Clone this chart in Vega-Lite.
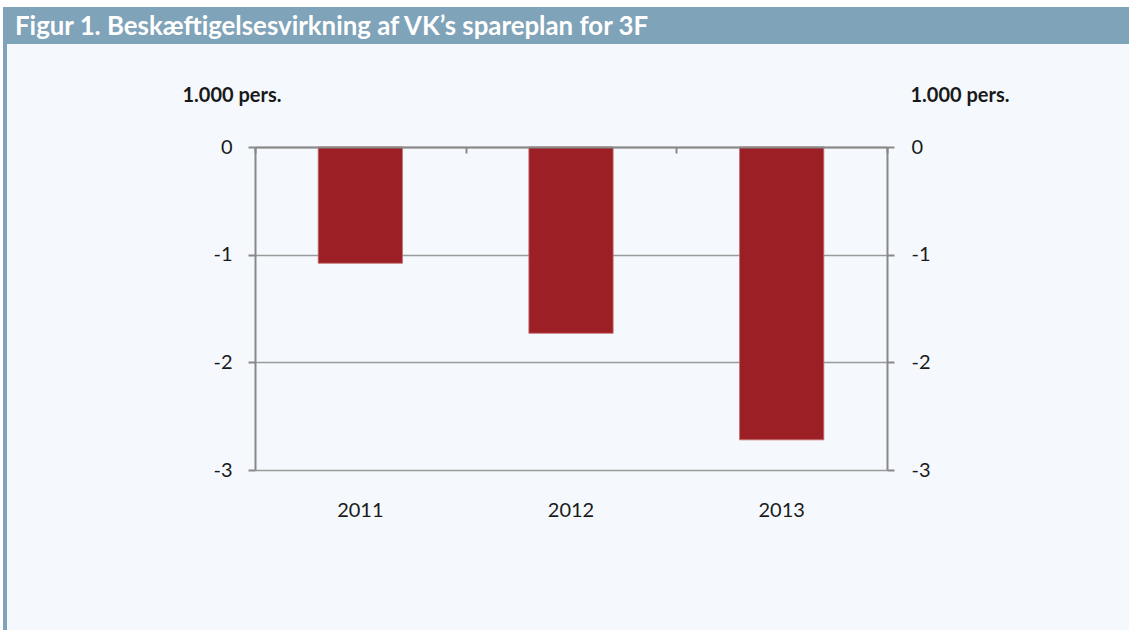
{
  "$schema": "https://vega.github.io/schema/vega-lite/v6.json",
  "background": "#f5f9fd",
  "padding": 0,
  "spacing": 0,
  "bounds": "full",
  "config": {
    "view": {"stroke": null},
    "concat": {"spacing": 0},
    "font": "Lato"
  },
  "vconcat": [
    {
      "width": 1129, "height": 7,
      "view": {"fill": "#ffffff", "stroke": null},
      "data": {"values": []},
      "mark": "text"
    },
    {
      "spacing": 0,
      "bounds": "flush",
      "hconcat": [
        {
          "width": 3, "height": 37,
          "view": {"fill": "#ffffff", "stroke": null},
          "data": {"values": []},
          "mark": "text"
        },
        {
          "width": 1126, "height": 37,
          "view": {"fill": "#7fa3b8", "stroke": null},
          "data": {"values": [{"pos": 0, "label": "Figur 1. Beskæftigelsesvirkning af VK’s spareplan for 3F"}]},
          "mark": {"type": "text", "align": "left", "baseline": "middle", "dx": 12, "dy": 1, "font": "Lato", "fontWeight": "bold", "fontSize": 25.8, "color": "#ffffff"},
          "encoding": {
            "x": {"field": "pos", "type": "quantitative", "scale": {"domain": [0, 1]}, "axis": null},
            "text": {"field": "label", "type": "nominal"}
          }
        }
      ]
    },
    {
      "spacing": 0,
      "bounds": "flush",
      "hconcat": [
        {
          "width": 3, "height": 586,
          "view": {"fill": "#ffffff", "stroke": null},
          "data": {"values": []},
          "mark": "text"
        },
        {
          "width": 4, "height": 586,
          "view": {"fill": "#7fa3b8", "stroke": null},
          "data": {"values": []},
          "mark": "text"
        },
        {
          "width": 248, "height": 1,
          "data": {"values": []},
          "mark": "text"
        },
        {
          "spacing": 0,
          "bounds": "flush",
          "vconcat": [
            {
              "width": 632, "height": 103,
              "data": {"values": []},
              "mark": "text"
            },
            {
              "width": 632, "height": 323,
              "data": {"values": [
                {"year": "2011", "value": -1.08},
                {"year": "2012", "value": -1.73},
                {"year": "2013", "value": -2.72}
              ]},
              "layer": [
                {
                  "mark": {"type": "bar", "color": "#9c1f25", "stroke": "#c46d70", "strokeWidth": 0.8},
                  "encoding": {
                    "x": {
                      "field": "year", "type": "nominal",
                      "scale": {"paddingInner": 0.6, "paddingOuter": 0.3},
                      "axis": {
                        "orient": "bottom", "title": null, "labelAngle": 0,
                        "ticks": false, "domain": false, "grid": false,
                        "labelPadding": 30, "labelFontSize": 20, "labelColor": "#1a1a1a", "labelFont": "Lato"
                      }
                    },
                    "y": {
                      "field": "value", "type": "quantitative",
                      "scale": {"domain": [-3, 0], "nice": false},
                      "axis": {
                        "orient": "left", "values": [-3, -2, -1, 0], "labelExpr": "datum.value + ''",
                        "grid": true, "gridColor": "#9a9a9a", "gridWidth": 1.5,
                        "domain": true, "domainColor": "#888888", "domainWidth": 2,
                        "ticks": true, "tickSize": 7, "tickColor": "#888888", "tickWidth": 2,
                        "labelPadding": 16, "labelFontSize": 20, "labelColor": "#1a1a1a", "labelFont": "Lato",
                        "title": "1.000 pers.", "titleAngle": 0, "titleAlign": "left", "titleBaseline": "alphabetic",
                        "titleX": -73, "titleY": -46, "titleFontSize": 20, "titleFontWeight": "bold", "titleColor": "#1a1a1a", "titleFont": "Lato"
                      }
                    }
                  }
                },
                {
                  "mark": {"type": "bar", "opacity": 0},
                  "encoding": {
                    "x": {
                      "field": "year", "type": "nominal",
                      "scale": {"paddingInner": 0, "paddingOuter": 0},
                      "axis": {
                        "orient": "bottom", "offset": -323, "title": null, "labels": false,
                        "ticks": true, "tickBand": "extent", "tickSize": 6, "tickColor": "#888888", "tickWidth": 2,
                        "domain": true, "domainColor": "#888888", "domainWidth": 2, "grid": false, "zindex": 1
                      }
                    },
                    "y": {
                      "field": "value", "type": "quantitative",
                      "axis": {
                        "orient": "right", "values": [-3, -2, -1, 0], "labelExpr": "datum.value + ''",
                        "grid": false,
                        "domain": true, "domainColor": "#888888", "domainWidth": 2,
                        "ticks": true, "tickSize": 7, "tickColor": "#888888", "tickWidth": 2,
                        "labelPadding": 17, "labelFontSize": 20, "labelColor": "#1a1a1a", "labelFont": "Lato",
                        "title": "1.000 pers.", "titleAngle": 0, "titleAlign": "left", "titleBaseline": "alphabetic",
                        "titleX": 23, "titleY": -46, "titleFontSize": 20, "titleFontWeight": "bold", "titleColor": "#1a1a1a", "titleFont": "Lato"
                      }
                    }
                  }
                }
              ],
              "resolve": {"scale": {"x": "independent"}, "axis": {"x": "independent", "y": "independent"}}
            },
            {
              "width": 632, "height": 160,
              "data": {"values": []},
              "mark": "text"
            }
          ]
        },
        {
          "width": 242, "height": 1,
          "data": {"values": []},
          "mark": "text"
        }
      ]
    }
  ]
}
